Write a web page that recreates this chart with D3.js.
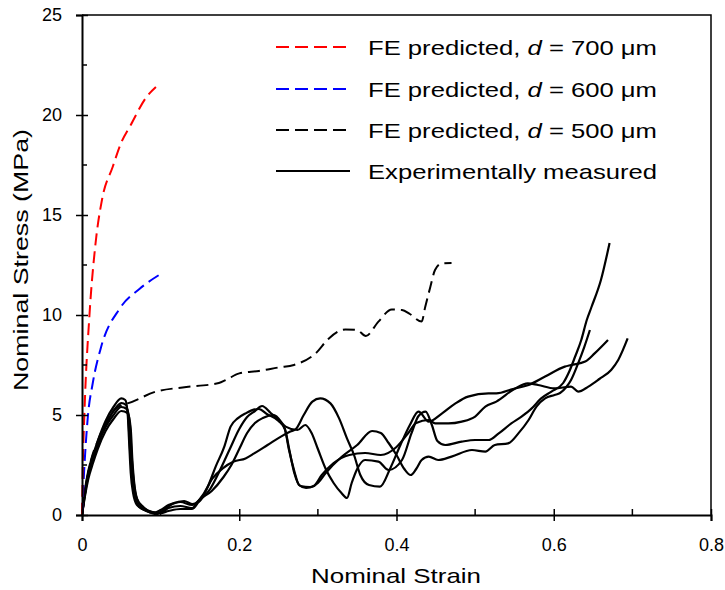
<!DOCTYPE html>
<html>
<head>
<meta charset="utf-8">
<script src="https://cdn.jsdelivr.net/npm/d3@7"></script>
<style>
  body { margin: 0; background: #fff; }
  text { font-family: "Liberation Sans", Arial, sans-serif; fill: #000; }
</style>
</head>
<body>
<div id="chart"></div>
<script>
// ticks
var xTicks = [0, 0.2, 0.4, 0.6, 0.8];
var xMinor = [0.1, 0.3, 0.5, 0.7];
var yTicks = [0, 5, 10, 15, 20, 25];
var yMinor = [2.5, 7.5, 12.5, 17.5, 22.5];

// FE predictions [strain, stress]
var fe700 = [[0,0],[0.001,2.4],[0.003,5],[0.0095,10],[0.017,13.5],[0.0256,15.8],[0.039,17.4],[0.0497,18.6],[0.062,19.5],[0.082,20.9],[0.094,21.4]];
var fe600 = [[0,0],[0.003,2.4],[0.0074,4.9],[0.0137,6.6],[0.0243,8.4],[0.0476,10.3],[0.073,11.3],[0.1,12.05]];
var fe500 = [[0,0],[0.01,2.5],[0.02,3.7],[0.03,4.6],[0.04,5.2],[0.05,5.5],[0.058,5.58],[0.094,6.17],[0.128,6.38],[0.174,6.6],[0.183,6.75],[0.2,7.08],[0.225,7.2],[0.2505,7.38],[0.2695,7.5],[0.297,8.08],[0.314,8.83],[0.335,9.28],[0.35,9.25],[0.361,8.95],[0.377,9.67],[0.394,10.28],[0.407,10.25],[0.417,10.05],[0.432,9.67],[0.4365,10.4],[0.443,11.4],[0.449,12.25],[0.4576,12.58],[0.47,12.6]];

// experimental specimens
var exp1 = [[0,0],[0.004,1.3],[0.008,2.2],[0.014,3.0],[0.02,3.7],[0.03,4.7],[0.04,5.4],[0.05,5.83],[0.055,5.75],[0.058,5.1],[0.06,3.6],[0.062,2.1],[0.065,1.1],[0.07,0.5],[0.08,0.25],[0.09,0.1],[0.1,0.25],[0.11,0.5],[0.125,0.65],[0.14,0.5],[0.149,0.75],[0.16,1.42],[0.17,2.42],[0.181,3.42],[0.189,4.42],[0.198,4.83],[0.208,5.08],[0.215,5.22],[0.225,5.3],[0.235,5.05],[0.25,4.7],[0.258,4.3],[0.264,3.2],[0.27,2.1],[0.278,1.45],[0.29,1.4],[0.3,1.6],[0.31,2.1],[0.33,2.9],[0.35,3.5],[0.369,4.2],[0.38,4.1],[0.39,3.6],[0.4,3.0],[0.41,2.3],[0.418,2.0],[0.425,2.3],[0.432,2.75],[0.441,2.92],[0.453,2.75],[0.47,2.92],[0.496,3.25],[0.513,3.17],[0.525,3.5],[0.542,3.58],[0.555,4.08],[0.568,4.75],[0.578,5.42],[0.589,5.83],[0.601,6.0],[0.608,6.1],[0.616,6.4],[0.622,6.75],[0.631,7.58],[0.639,8.42],[0.646,9.25]];
var exp2 = [[0,0],[0.004,1.2],[0.008,2.1],[0.014,2.9],[0.02,3.6],[0.03,4.5],[0.04,5.2],[0.05,5.6],[0.056,5.5],[0.059,4.8],[0.061,3.3],[0.064,1.8],[0.067,0.9],[0.072,0.45],[0.082,0.2],[0.095,0.05],[0.105,0.3],[0.115,0.55],[0.13,0.7],[0.14,0.55],[0.149,0.67],[0.166,1.83],[0.179,2.33],[0.193,2.67],[0.208,2.83],[0.219,3.08],[0.236,3.5],[0.253,3.92],[0.265,4.17],[0.272,4.3],[0.282,5.0],[0.293,5.67],[0.303,5.83],[0.316,5.58],[0.327,4.83],[0.337,3.83],[0.346,3.0],[0.354,2.0],[0.365,1.5],[0.379,1.42],[0.392,2.33],[0.405,3.5],[0.417,4.5],[0.428,5.17],[0.441,4.67],[0.458,5.08],[0.475,5.58],[0.491,5.92],[0.517,6.08],[0.527,6.08],[0.548,6.3],[0.568,6.5],[0.589,6.92],[0.614,7.42],[0.622,7.5],[0.64,7.67],[0.652,8.08],[0.669,8.75]];
var exp3 = [[0,0],[0.004,1.1],[0.008,2.0],[0.014,2.8],[0.02,3.5],[0.03,4.4],[0.04,5.0],[0.05,5.4],[0.057,5.3],[0.061,4.5],[0.063,3.0],[0.066,1.6],[0.07,0.8],[0.078,0.4],[0.088,0.15],[0.1,0.1],[0.11,0.35],[0.125,0.45],[0.14,0.35],[0.149,0.75],[0.165,1.2],[0.18,1.9],[0.19,2.5],[0.2,3.3],[0.21,4.1],[0.22,4.6],[0.23,4.85],[0.244,5.0],[0.259,4.42],[0.274,4.25],[0.284,4.5],[0.292,4.1],[0.3,3.3],[0.31,2.3],[0.32,1.6],[0.33,1.1],[0.337,0.85],[0.343,1.6],[0.35,2.3],[0.36,2.75],[0.377,2.67],[0.39,2.25],[0.407,2.75],[0.419,4.08],[0.428,4.95],[0.437,5.17],[0.445,4.5],[0.452,3.7],[0.462,3.5],[0.483,3.67],[0.5,3.75],[0.517,3.75],[0.53,4.08],[0.546,4.58],[0.559,4.92],[0.572,5.33],[0.584,5.83],[0.597,6.17],[0.612,6.6],[0.62,7.2],[0.627,7.9],[0.635,8.75],[0.642,9.75],[0.648,10.4],[0.66,11.75],[0.671,13.6]];
var exp4 = [[0,0],[0.004,1.0],[0.008,1.8],[0.014,2.6],[0.02,3.3],[0.03,4.2],[0.04,4.8],[0.05,5.2],[0.058,5.1],[0.062,4.3],[0.064,2.8],[0.067,1.4],[0.072,0.6],[0.08,0.3],[0.09,0.15],[0.1,0.1],[0.11,0.2],[0.125,0.3],[0.14,0.3],[0.149,0.7],[0.163,1.3],[0.175,2.2],[0.188,3.3],[0.2,4.3],[0.21,4.9],[0.22,5.2],[0.229,5.45],[0.24,5.1],[0.25,4.75],[0.258,4.3],[0.263,3.3],[0.27,2.2],[0.276,1.5],[0.285,1.35],[0.295,1.45],[0.305,2.0],[0.32,2.6],[0.34,3.0],[0.36,3.1],[0.38,3.0],[0.4,3.4],[0.415,4.1],[0.425,4.6],[0.441,4.75],[0.449,4.58],[0.466,4.58],[0.483,4.67],[0.5,4.92],[0.513,5.42],[0.527,5.67],[0.551,6.33],[0.567,6.58],[0.58,6.5],[0.601,6.33],[0.622,6.42],[0.631,6.17],[0.644,6.42],[0.658,6.8],[0.673,7.25],[0.682,7.75],[0.694,8.83]];

var legendLabels = ["FE predicted, ", "FE predicted, ", "FE predicted, ", "Experimentally measured"];
var legendSizes = ["700", "600", "500", null];
var legendColors = ["#ff0000", "#0000ff", "#000000", "#000000"];
var legendDashed = [true, true, true, false];

function StressStrainChart (params) {
  var attrs = {
    container: '#chart',
    width: 725,
    height: 590,
    margin: { top: 15, right: 14, bottom: 75, left: 82 }
  };
  attrs = Object.assign(attrs, params);

  function main () {
    var chartWidth = attrs.width - attrs.margin.left - attrs.margin.right;
    var chartHeight = attrs.height - attrs.margin.top - attrs.margin.bottom;

    var svg = d3.select(attrs.container).append('svg')
      .attr('width', attrs.width)
      .attr('height', attrs.height);

    var chart = svg.append('g')
      .attr('transform', `translate(${attrs.margin.left}, ${attrs.margin.top})`);

    var x = d3.scaleLinear().domain([0, 0.8]).range([0, chartWidth]);
    var y = d3.scaleLinear().domain([0, 25]).range([chartHeight, 0]);

    // frame (top and right)
    chart.append('path')
      .attr('d', `M0,0H${chartWidth}V${chartHeight}`)
      .attr('fill', 'none')
      .attr('stroke', '#000')
      .attr('stroke-width', 1.5);

    var line = d3.line()
      .x(d => x(d[0]))
      .y(d => y(d[1]))
      .curve(d3.curveMonotoneX);

    // experimental curves
    [exp1, exp2, exp3, exp4].forEach(function (s) {
      chart.append('path')
        .attr('d', line(s))
        .attr('fill', 'none')
        .attr('stroke', '#000')
        .attr('stroke-width', 2.2)
        .attr('stroke-linejoin', 'round');
    });

    // FE predictions
    [[fe500, '#000'], [fe600, '#0000ff'], [fe700, '#ff0000']].forEach(function (p) {
      chart.append('path')
        .attr('d', line(p[0]))
        .attr('fill', 'none')
        .attr('stroke', p[1])
        .attr('stroke-width', 2)
        .attr('stroke-dasharray', '12,6');
    });

    // x axis
    var xAxis = chart.append('g')
      .attr('transform', `translate(0, ${chartHeight})`)
      .call(d3.axisBottom(x).tickValues(xTicks).tickSize(6).tickPadding(17)
        .tickFormat(d => d === 0 ? '0' : d3.format('.1f')(d)));
    xAxis.select('.domain').attr('stroke-width', 2);
    xAxis.selectAll('.tick line').attr('y1', -6).attr('stroke-width', 1.5);
    xAxis.selectAll('.tick text').attr('font-size', 18).attr('font-family', '"Liberation Sans", Arial, sans-serif');

    chart.append('g').selectAll('line')
      .data(xMinor).join('line')
      .attr('x1', d => x(d)).attr('x2', d => x(d))
      .attr('y1', chartHeight - 6).attr('y2', chartHeight)
      .attr('stroke', '#000').attr('stroke-width', 1.5);

    // y axis
    var yAxis = chart.append('g')
      .call(d3.axisLeft(y).tickValues(yTicks).tickSize(6).tickPadding(14));
    yAxis.select('.domain').attr('stroke-width', 2);
    yAxis.selectAll('.tick line').attr('x1', 6).attr('stroke-width', 1.5);
    yAxis.selectAll('.tick text').attr('font-size', 18).attr('font-family', '"Liberation Sans", Arial, sans-serif');

    chart.append('g').selectAll('line')
      .data(yMinor).join('line')
      .attr('x1', 0).attr('x2', 5)
      .attr('y1', d => y(d)).attr('y2', d => y(d))
      .attr('stroke', '#000').attr('stroke-width', 1.5);

    // axis titles
    svg.append('text')
      .attr('x', 396).attr('y', 583)
      .attr('text-anchor', 'middle')
      .attr('font-size', 21)
      .attr('textLength', 170).attr('lengthAdjust', 'spacingAndGlyphs')
      .text('Nominal Strain');

    svg.append('text')
      .attr('transform', 'translate(28, 260) rotate(-90)')
      .attr('text-anchor', 'middle')
      .attr('font-size', 21)
      .attr('textLength', 262).attr('lengthAdjust', 'spacingAndGlyphs')
      .text('Nominal Stress (MPa)');

    // legend
    var legend = svg.append('g');
    var rowY = [47, 89, 130, 171];
    legendLabels.forEach(function (label, i) {
      legend.append('line')
        .attr('x1', 276).attr('x2', 350)
        .attr('y1', rowY[i]).attr('y2', rowY[i])
        .attr('stroke', legendColors[i])
        .attr('stroke-width', 2)
        .attr('stroke-dasharray', legendDashed[i] ? '13,6' : null);

      var t = legend.append('text')
        .attr('x', 368).attr('y', rowY[i] + 8)
        .attr('font-size', 21)
        .attr('textLength', 289).attr('lengthAdjust', 'spacingAndGlyphs');
      t.append('tspan').text(label);
      if (legendSizes[i]) {
        t.append('tspan').attr('font-style', 'italic').text('d');
        t.append('tspan').text(' = ' + legendSizes[i] + ' μm');
      }
    });
  }

  main.render = function () {
    main();
    return main;
  };

  return main;
}

StressStrainChart().render();
</script>
</body>
</html>
